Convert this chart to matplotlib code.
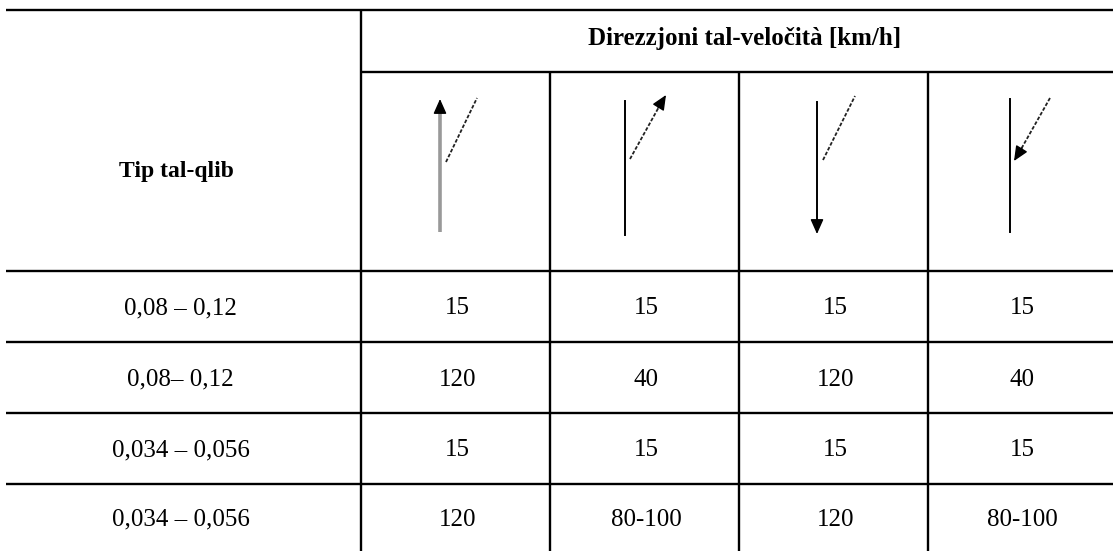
"""
Table of turning speeds per direction, drawn as a matplotlib figure.
"""
import matplotlib.pyplot as plt

plt.rcParams['font.family'] = ['Liberation Serif', 'DejaVu Serif']

header_top = 'Direzzjoni tal-veločità [km/h]'
header_left = 'Tip tal-qlib'
row_labels = ['0,08 \u2013 0,12', '0,08\u2013 0,12',
              '0,034 \u2013 0,056', '0,034 \u2013 0,056']
values = [
    ['15', '15', '15', '15'],
    ['120', '40', '120', '40'],
    ['15', '15', '15', '15'],
    ['120', '80-100', '120', '80-100'],
]

# table geometry in pixels
W, H = 1113, 551
col_x = [0, 361, 550, 739, 928, W]
row_y = [9.5, 72, 271, 342, 413, 484, H]
LW = 1.7

fig = plt.figure(figsize=(W / 100, H / 100), dpi=100)
ax = fig.add_axes([0, 0, 1, 1])
ax.set_xlim(0, W)
ax.set_ylim(H, 0)
ax.axis('off')

# grid lines
ax.hlines(row_y[0], 6, W, color='black', lw=LW)
ax.hlines(row_y[1], col_x[1], W, color='black', lw=LW)
ax.hlines(row_y[2:6], 6, W, color='black', lw=LW)
ax.vlines(col_x[1], row_y[0], H, color='black', lw=LW)
ax.vlines(col_x[2:5], row_y[1], H, color='black', lw=LW)

# header text
ax.text((col_x[1] + W) / 2 + 8, (row_y[0] + row_y[1]) / 2 - 2, header_top,
        ha='center', va='center', fontsize=18, fontweight='bold')
ax.text((col_x[0] + col_x[1]) / 2 - 4, (row_y[1] + row_y[2]) / 2,
        header_left, ha='center', va='center', fontsize=17,
        fontweight='bold')

# body text
for i, label in enumerate(row_labels):
    yc = (row_y[i + 2] + row_y[i + 3]) / 2 + 2
    ax.text((col_x[0] + col_x[1]) / 2, yc, label, ha='center', va='center',
            fontsize=18)
    for j, val in enumerate(values[i]):
        xc = (col_x[j + 1] + col_x[j + 2]) / 2 + 2
        ax.text(xc, yc, val, ha='center', va='center', fontsize=18)


def head(x0, y0, x1, y1):
    ax.annotate('', xy=(x1, y1), xytext=(x0, y0),
                arrowprops=dict(arrowstyle='-|>,head_length=0.9,head_width=0.4',
                                color='black', lw=1, mutation_scale=10,
                                shrinkA=0, shrinkB=0))


dash = dict(color='#222222', lw=1.3, linestyle=(0, (2, 1)))

# column 1: straight on (grey shaft)
ax.plot([440, 440], [232, 108], color='#999999', lw=2.6,
        solid_capstyle='butt')
head(440, 112, 440, 99)
ax.plot([446, 477], [162, 98], **dash)

# column 2: merging to the right lane
ax.plot([625, 625], [101, 235], color='black', lw=1.4)
ax.plot([630, 660], [159, 105], **dash)
head(658, 108, 666, 95)

# column 3: straight down
ax.plot([817, 817], [102, 225], color='black', lw=1.4)
head(817, 222, 817, 234)
ax.plot([823, 855], [160, 96], **dash)

# column 4: diverging from the right lane
ax.plot([1010, 1010], [99, 232], color='black', lw=1.4)
ax.plot([1050, 1020], [98, 151], **dash)
head(1022, 148, 1014, 161)

fig.savefig('out.png', dpi=100)
